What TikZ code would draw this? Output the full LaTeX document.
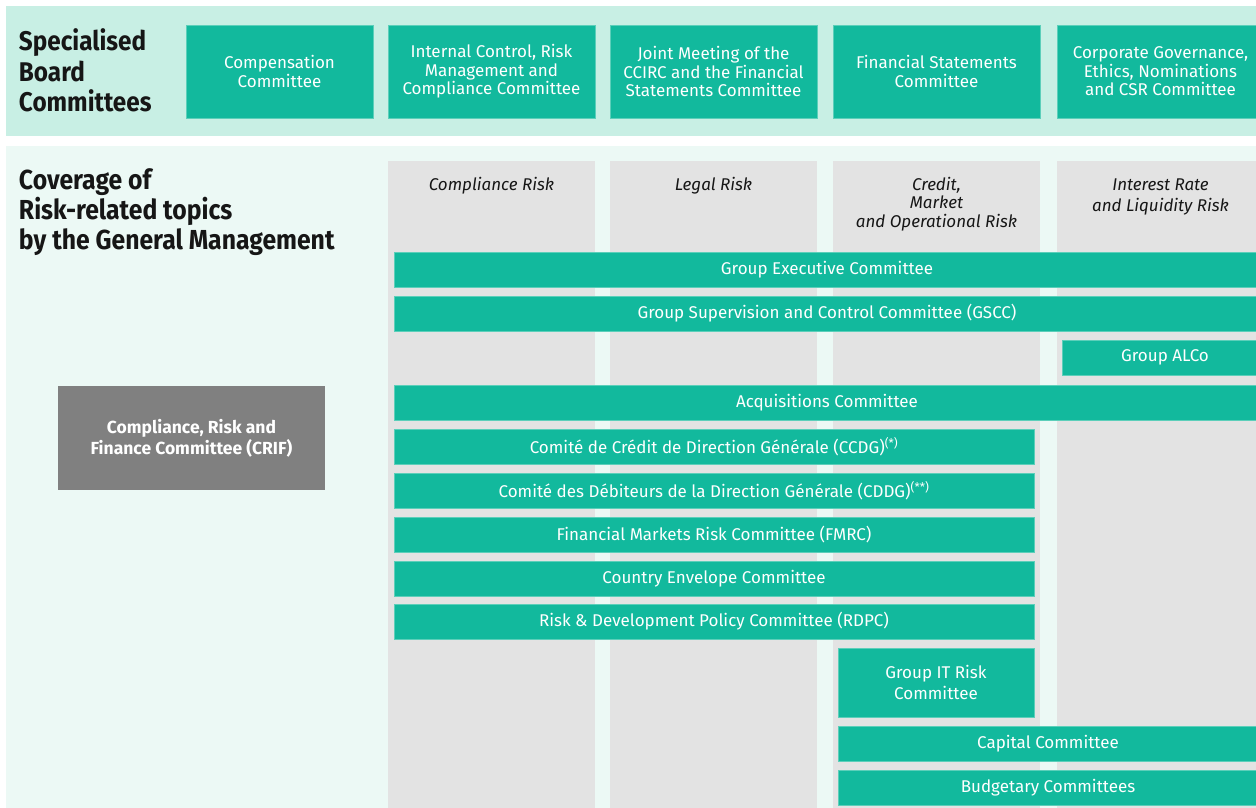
\documentclass[tikz,border=0pt]{standalone}
\usepackage{fontspec}
\setmainfont{Fira Sans}
\newfontfamily\titlefont{Fira Sans}[FakeStretch=0.9]
\definecolor{teal1}{HTML}{12B99D}
\definecolor{tealedge}{HTML}{5CCFBA}
\definecolor{mintA}{HTML}{C8EFE4}
\definecolor{mintB}{HTML}{ECF9F5}
\definecolor{colgrey}{HTML}{E3E3E3}
\definecolor{crifgrey}{HTML}{808080}
\definecolor{titleink}{HTML}{161616}
\begin{document}
\begin{tikzpicture}[x=1pt,y=-1pt,
  every node/.style={inner sep=0pt, outer sep=0pt},
  tbox/.style={anchor=north west, fill=teal1, draw=tealedge, line width=0.8pt,
    text=white, align=center, font=\fontsize{17}{18.5}\selectfont},
  bar/.style={tbox, minimum height=35pt},
  hdr/.style={anchor=north, align=center, text=titleink,
    font=\fontsize{17}{18.5}\selectfont\itshape},
  ttl/.style={anchor=north west, align=left, text=titleink}
]
\useasboundingbox (0,0) rectangle (1256,807);
\clip (0,0) rectangle (1256,807);
\fill[white] (0,0) rectangle (1256,807);
% bands
\fill[mintA] (6,6) rectangle (1270,136);
\fill[mintB] (6,146) rectangle (1270,810);
% risk columns
\fill[colgrey] (388,161) rectangle (595,810);
\fill[colgrey] (610,161) rectangle (817,810);
\fill[colgrey] (833,161) rectangle (1040,810);
\fill[colgrey] (1057,161) rectangle (1264,810);

% titles
\node[ttl, font=\titlefont\bfseries\fontsize{27}{30.5}\selectfont] (tboard) at (19,29)
  {Specialised\\Board\\Committees};
\node[ttl, font=\titlefont\bfseries\fontsize{27.5}{30}\selectfont] (tcover) at (19,169)
  {Coverage of\\Risk-related topics\\by the General Management};

% board committees
\node[tbox, minimum width=187pt, minimum height=93pt] (comp) at (186,25)
  {Compensation\\Committee};
\node[tbox, minimum width=207pt, minimum height=93pt] (icrc) at (388,25)
  {Internal Control, Risk\\Management and\\Compliance Committee};
\node[tbox, minimum width=207pt, minimum height=93pt] (joint) at (610,25)
  {Joint Meeting of the\\CCIRC and the Financial\\Statements Committee};
\node[tbox, minimum width=207pt, minimum height=93pt] (fsc) at (833,25)
  {Financial Statements\\Committee};
\node[tbox, minimum width=207pt, minimum height=93pt] (cgen) at (1057,25)
  {Corporate Governance,\\Ethics, Nominations\\and CSR Committee};

% column headers
\node[hdr] (hcomp) at (491.5,177) {Compliance Risk};
\node[hdr] (hlegal) at (713.5,177) {Legal Risk};
\node[hdr] (hcredit) at (936.5,177) {Credit,\\Market\\and Operational Risk};
\node[hdr, font=\fontsize{17}{21}\selectfont\itshape] (hrate) at (1160.5,179)
  {Interest Rate\\and Liquidity Risk};

% CRIF
\node[anchor=north west, fill=crifgrey, minimum width=267pt, minimum height=104pt,
  text=white, align=center, font=\bfseries\fontsize{17.5}{21}\selectfont] (crif) at (58,386)
  {Compliance, Risk and\\Finance Committee (CRIF)};

% general management committees
\node[bar, minimum width=866pt] (gec) at (394,252) {Group Executive Committee};
\node[bar, minimum width=866pt] (gscc) at (394,296) {Group Supervision and Control Committee (GSCC)};
\node[bar, minimum width=206pt] (alco) at (1062,340) {Group ALCo};
\node[bar, minimum width=866pt] (acq) at (394,385) {Acquisitions Committee};
\node[bar, minimum width=640pt] (ccdg) at (394,429)
  {Comité de Crédit de Direction Générale (CCDG)\textsuperscript{(*)}};
\node[bar, minimum width=640pt] (cddg) at (394,473)
  {Comité des Débiteurs de la Direction Générale (CDDG)\textsuperscript{(**)}};
\node[bar, minimum width=640pt] (fmrc) at (394,517) {Financial Markets Risk Committee (FMRC)};
\node[bar, minimum width=640pt] (cec) at (394,561) {Country Envelope Committee};
\node[bar, minimum width=640pt] (rdpc) at (394,604) {Risk \& Development Policy Committee (RDPC)};
\node[tbox, minimum width=196pt, minimum height=69pt, font=\fontsize{17}{21}\selectfont] (itrisk) at (838,648)
  {Group IT Risk\\Committee};
\node[bar, minimum width=420pt] (capital) at (838,726) {Capital Committee};
\node[bar, minimum width=420pt] (budget) at (838,770) {Budgetary Committees};
\end{tikzpicture}
\end{document}
